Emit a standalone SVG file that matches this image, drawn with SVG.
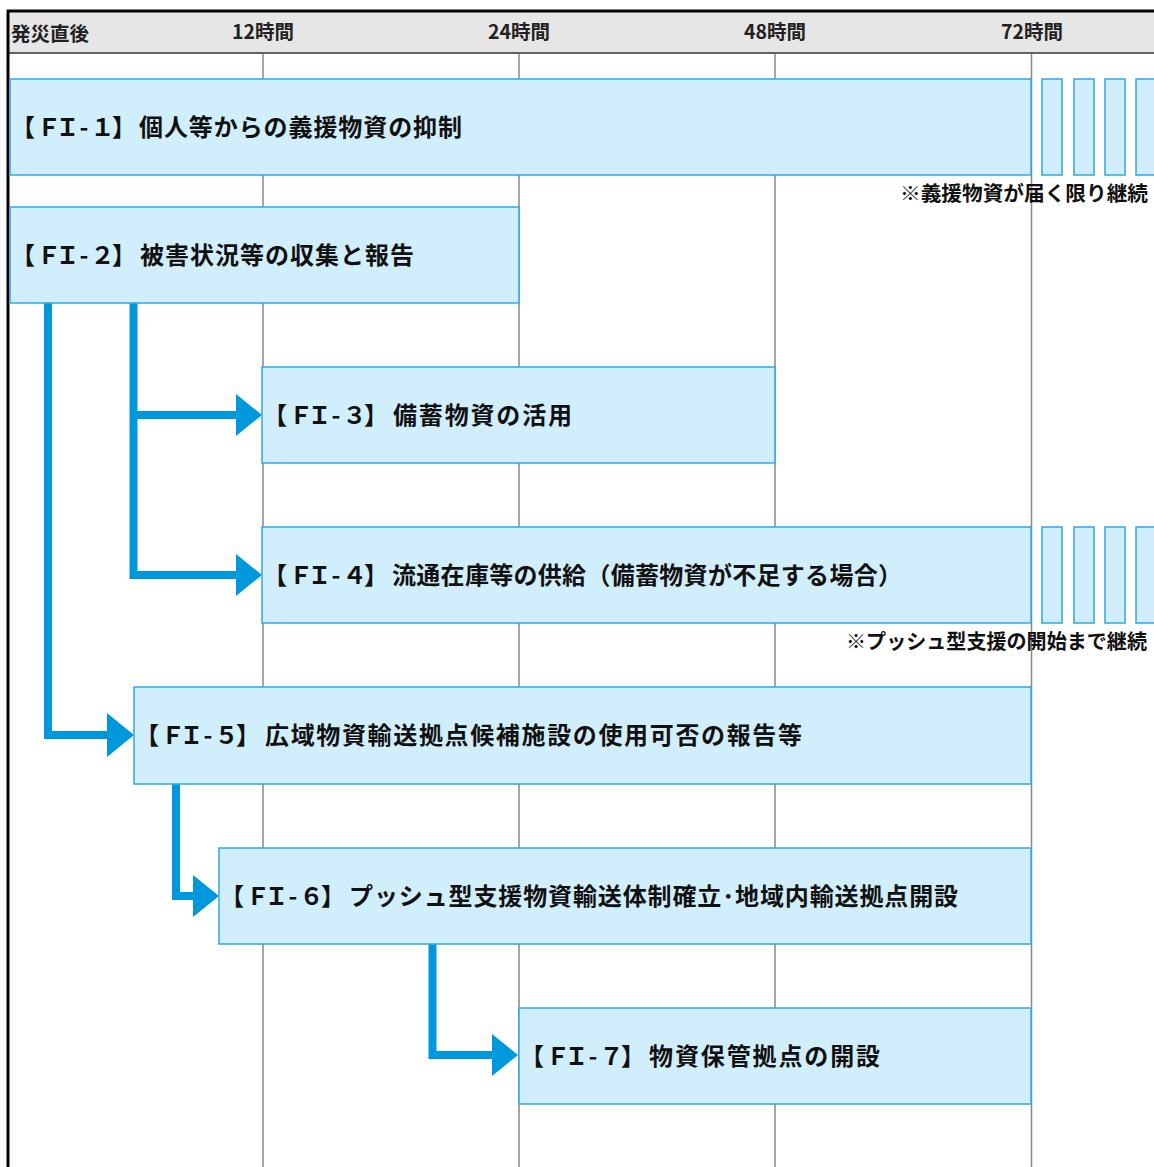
<svg xmlns="http://www.w3.org/2000/svg" width="1154" height="1167" viewBox="0 0 1154 1167">
<style>
.hdr{font-family:"Noto Sans CJK JP","Noto Sans",sans-serif;font-weight:bold;font-size:19.5px;fill:#222}
.box{fill:#d1eefc;stroke:#2fa9e1;stroke-width:1.5}
.grid{stroke:#888;stroke-width:1.5}
.lbl{font-family:"Noto Sans CJK JP","Noto Sans",sans-serif;font-weight:bold;font-size:24px;fill:#111}
.note{font-family:"Noto Sans CJK JP","Noto Sans",sans-serif;font-weight:bold;font-size:20.5px;fill:#111}
.conn{fill:none;stroke:#0098dd;stroke-width:8}
.head{fill:#0098dd}
</style>
<rect x="0" y="0" width="1154" height="1167" fill="#fff"/>
<g id="header">
<rect x="9" y="12" width="1145" height="41" fill="#e6e6e6"/>
<line x1="7" y1="11" x2="1154" y2="11" stroke="#000" stroke-width="3"/>
<line x1="9" y1="53" x2="1154" y2="53" stroke="#333" stroke-width="1.5"/>
<line x1="8" y1="10" x2="8" y2="1167" stroke="#000" stroke-width="3"/>
<text class="hdr" x="11" y="41">発災直後</text>
<text class="hdr" x="263" y="39" text-anchor="middle">12時間</text>
<text class="hdr" x="519" y="39" text-anchor="middle">24時間</text>
<text class="hdr" x="775" y="39" text-anchor="middle">48時間</text>
<text class="hdr" x="1032" y="39" text-anchor="middle">72時間</text>
</g>
<g id="grid">
<line class="grid" x1="263" y1="54" x2="263" y2="1167"/>
<line class="grid" x1="519" y1="54" x2="519" y2="1167"/>
<line class="grid" x1="775" y1="54" x2="775" y2="1167"/>
<line class="grid" x1="1031.5" y1="54" x2="1031.5" y2="1167"/>
</g>
<g id="connectors">
<path class="conn" d="M48 303 V735 H112"/>
<polygon class="head" points="107,713 134,735 107,757"/>
<path class="conn" d="M133.5 303 V575 H240 M133.5 415 H240"/>
<polygon class="head" points="236,394 262,415 236,436"/>
<polygon class="head" points="236,554 262,575 236,596"/>
<path class="conn" d="M176 784 V896 H197"/>
<polygon class="head" points="193,875 219,896 193,917"/>
<path class="conn" d="M432.5 944 V1055 H496"/>
<polygon class="head" points="492,1034 518,1055 492,1076"/>
</g>
<g id="FI-1">
<rect class="box" x="10" y="79" width="1021" height="96"/>
<rect class="box" x="1042" y="79" width="20" height="96"/>
<rect class="box" x="1074" y="79" width="20" height="96"/>
<rect class="box" x="1105" y="79" width="20" height="96"/>
<rect class="box" x="1136" y="79" width="24" height="96"/>
<text class="lbl" x="11 37 55.5 79.5 90.5 112" y="136">【ＦＩ-１】</text>
<text class="lbl" x="139" y="136" textLength="323" lengthAdjust="spacing">個人等からの義援物資の抑制</text>
<text class="note" x="900" y="201" textLength="248" lengthAdjust="spacingAndGlyphs">※義援物資が届く限り継続</text>
</g>
<g id="FI-2">
<rect class="box" x="10" y="207" width="509" height="96"/>
<text class="lbl" x="11 37 55.5 79.5 90.5 112" y="264">【ＦＩ-２】</text>
<text class="lbl" x="140" y="264" textLength="274" lengthAdjust="spacing">被害状況等の収集と報告</text>
</g>
<g id="FI-3">
<rect class="box" x="262" y="367" width="513" height="96"/>
<text class="lbl" x="263 289 307.5 331.5 342.5 364" y="424">【ＦＩ-３】</text>
<text class="lbl" x="393" y="424" textLength="179" lengthAdjust="spacing">備蓄物資の活用</text>
</g>
<g id="FI-4">
<rect class="box" x="262" y="527" width="769" height="96"/>
<rect class="box" x="1042" y="527" width="20" height="96"/>
<rect class="box" x="1074" y="527" width="20" height="96"/>
<rect class="box" x="1105" y="527" width="20" height="96"/>
<rect class="box" x="1136" y="527" width="24" height="96"/>
<text class="lbl" x="263 289 307.5 331.5 342.5 364" y="584">【ＦＩ-４】</text>
<text class="lbl" x="392" y="584" textLength="510" lengthAdjust="spacing">流通在庫等の供給（備蓄物資が不足する場合）</text>
<text class="note" x="846" y="649" textLength="301" lengthAdjust="spacingAndGlyphs">※プッシュ型支援の開始まで継続</text>
</g>
<g id="FI-5">
<rect class="box" x="134" y="687" width="897" height="97"/>
<text class="lbl" x="135 161 179.5 203.5 214.5 236" y="744">【ＦＩ-５】</text>
<text class="lbl" x="265" y="744" textLength="537" lengthAdjust="spacing">広域物資輸送拠点候補施設の使用可否の報告等</text>
</g>
<g id="FI-6">
<rect class="box" x="219" y="848" width="812" height="96"/>
<text class="lbl" x="220 246 264.5 288.5 299.5 321" y="905">【ＦＩ-６】</text>
<text class="lbl" x="349" y="905" textLength="609" lengthAdjust="spacing">プッシュ型支援物資輸送体制確立･地域内輸送拠点開設</text>
</g>
<g id="FI-7">
<rect class="box" x="519" y="1008" width="512" height="96"/>
<text class="lbl" x="520 546 564.5 588.5 599.5 621" y="1065">【ＦＩ-７】</text>
<text class="lbl" x="649" y="1065" textLength="231" lengthAdjust="spacing">物資保管拠点の開設</text>
</g>
</svg>
